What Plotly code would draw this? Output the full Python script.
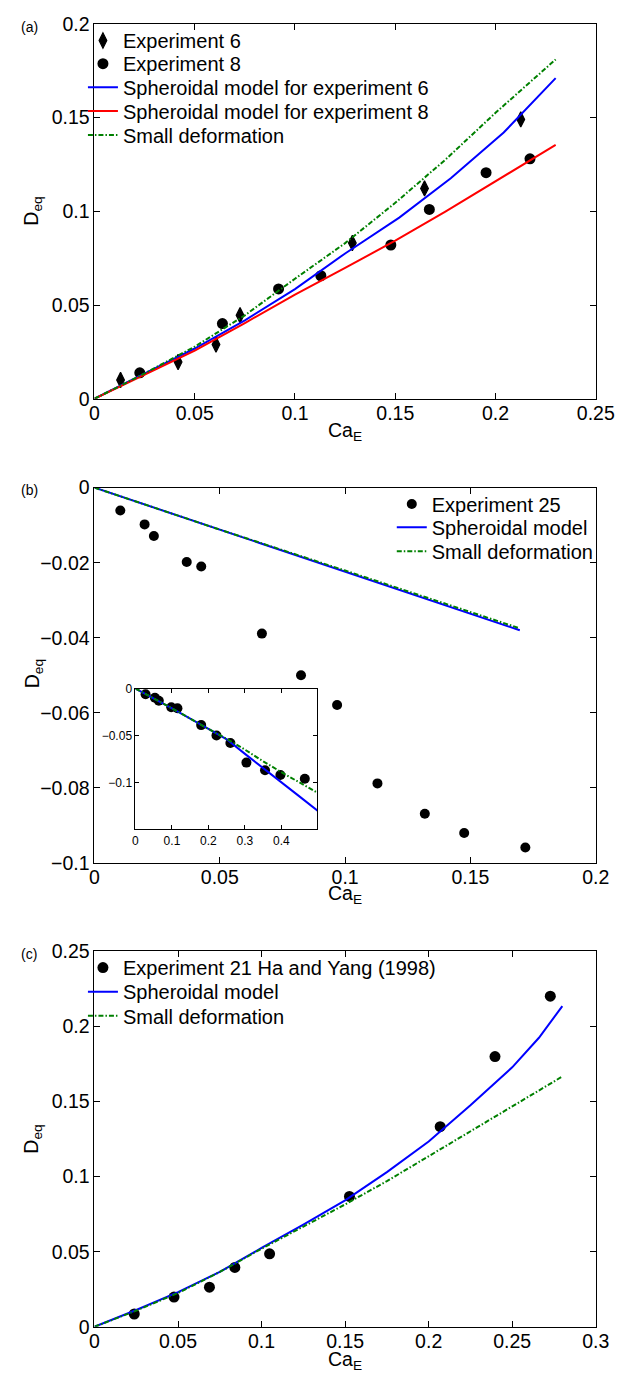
import plotly.graph_objects as go

W, H = 634, 1386

# ---------------- panel (a) ----------------
exp6_ca = [0.013, 0.0417, 0.0606, 0.0726, 0.1286, 0.1646, 0.2126]
exp6_d = [0.010, 0.0196, 0.0289, 0.0445, 0.0831, 0.1122, 0.149]
exp8_ca = [0.0226, 0.0638, 0.0918, 0.1129, 0.1478, 0.167, 0.1953, 0.2172]
exp8_d = [0.0138, 0.0401, 0.0586, 0.0656, 0.082, 0.101, 0.1206, 0.128]

sph6_ca = [0, 0.025, 0.05, 0.075, 0.1, 0.125, 0.152, 0.1777, 0.2041, 0.23]
sph6_d = [0, 0.0132, 0.0268, 0.0418, 0.0585, 0.0775, 0.0966, 0.1176, 0.142, 0.171]
model_a_ca = [0, 0.025, 0.05, 0.075, 0.1, 0.125, 0.15, 0.175, 0.2, 0.23]
sph8_d = [0, 0.0127, 0.0257, 0.0404, 0.0555, 0.0698, 0.0843, 0.0998, 0.1158, 0.1354]
small_a_d = [0, 0.0135, 0.0278, 0.0445, 0.064, 0.0830, 0.1045, 0.1275, 0.1525, 0.181]

# ---------------- panel (b) ----------------
exp25_ca = [0.0103, 0.0200, 0.0237, 0.0368, 0.0426, 0.0668, 0.0824, 0.0968,
            0.1129, 0.1318, 0.1475, 0.1719]
exp25_d = [-0.0061, -0.0098, -0.0129, -0.0198, -0.0210, -0.0389, -0.0500,
           -0.0579, -0.0788, -0.0869, -0.0920, -0.0959]
model_b_ca = [0, 0.05, 0.1, 0.15, 0.1697]
sph_b_d = [0, -0.0112, -0.0222, -0.0334, -0.0380]
small_b_d = [0, -0.0112, -0.0221, -0.0331, -0.0375]

# inset of panel (b)
inset_ca = [0.0277, 0.0533, 0.064, 0.098, 0.115, 0.180, 0.222, 0.260, 0.304,
            0.355, 0.397, 0.464]
inset_model_ca = [0, 0.1, 0.2, 0.25, 0.3, 0.35, 0.4, 0.45, 0.499]
inset_sph_d = [0, -0.021, -0.043, -0.054, -0.0695, -0.085, -0.0995, -0.115, -0.130]
inset_small_d = [0, -0.021, -0.043, -0.0535, -0.065, -0.0775, -0.089, -0.100, -0.111]

# ---------------- panel (c) ----------------
exp21_ca = [0.0238, 0.0476, 0.0688, 0.084, 0.1048, 0.1526, 0.2069, 0.2397, 0.2728]
exp21_d = [0.0085, 0.0198, 0.0264, 0.0395, 0.0486, 0.0868, 0.1333, 0.180, 0.2202]
sph_c_ca = [0, 0.025, 0.05, 0.075, 0.1, 0.125, 0.15, 0.175, 0.2, 0.225, 0.25, 0.266, 0.28]
sph_c_d = [0, 0.0112, 0.0231, 0.0365, 0.0525, 0.068, 0.0842, 0.103, 0.1234, 0.1475,
           0.1728, 0.1925, 0.2136]
small_c_ca = [0, 0.025, 0.05, 0.075, 0.1, 0.125, 0.15, 0.175, 0.2, 0.225, 0.25, 0.28]
small_c_d = [0, 0.0108, 0.0225, 0.0365, 0.052, 0.0665, 0.0815, 0.097, 0.1135, 0.13,
             0.1465, 0.1667]

BLUE = "#0000ff"
RED = "#ff0000"
GREEN = "#008000"
DASHDOT = "5px,2px,1.5px,2px"
FONT = "Liberation Sans, Arial, Helvetica, sans-serif"


def fx(p):
    return p / W


def fy(p):
    return 1 - p / H


fig = go.Figure()

# one legend box per entry so that each row sits exactly where it belongs
legend_boxes = {}


def entry_legend(text_x, row_y):
    key = "legend" if not legend_boxes else "legend%d" % (len(legend_boxes) + 1)
    legend_boxes[key] = dict(x=fx(text_x - 42), y=fy(row_y))
    return key


DIAMOND = dict(symbol="diamond-tall", size=11, color="black",
               line=dict(color="black", width=1.2))

# (a)
fig.add_trace(go.Scatter(x=exp6_ca, y=exp6_d, mode="markers", name="Experiment 6",
                         marker=DIAMOND, xaxis="x", yaxis="y",
                         legend=entry_legend(123, 30)))
fig.add_trace(go.Scatter(x=exp8_ca, y=exp8_d, mode="markers", name="Experiment 8",
                         marker=dict(symbol="circle", size=11, color="black"),
                         xaxis="x", yaxis="y", legend=entry_legend(123, 53.5)))
fig.add_trace(go.Scatter(x=sph6_ca, y=sph6_d, mode="lines",
                         name="Spheroidal model for experiment 6",
                         line=dict(color=BLUE, width=2), xaxis="x", yaxis="y",
                         legend=entry_legend(123, 77.5)))
fig.add_trace(go.Scatter(x=model_a_ca, y=sph8_d, mode="lines",
                         name="Spheroidal model for experiment 8",
                         line=dict(color=RED, width=2), xaxis="x", yaxis="y",
                         legend=entry_legend(123, 101.5)))
fig.add_trace(go.Scatter(x=model_a_ca, y=small_a_d, mode="lines",
                         name="Small deformation",
                         line=dict(color=GREEN, width=2, dash=DASHDOT),
                         xaxis="x", yaxis="y", legend=entry_legend(123, 126)))

# (b)
fig.add_trace(go.Scatter(x=exp25_ca, y=exp25_d, mode="markers", name="Experiment 25",
                         marker=dict(symbol="circle", size=10, color="black"),
                         xaxis="x2", yaxis="y2", legend=entry_legend(444, 501)))
fig.add_trace(go.Scatter(x=model_b_ca, y=sph_b_d, mode="lines", name="Spheroidal model",
                         line=dict(color=BLUE, width=2), xaxis="x2", yaxis="y2",
                         legend=entry_legend(444, 524.5)))
fig.add_trace(go.Scatter(x=model_b_ca, y=small_b_d, mode="lines", name="Small deformation",
                         line=dict(color=GREEN, width=2, dash=DASHDOT),
                         xaxis="x2", yaxis="y2", legend=entry_legend(444, 549)))

# inset
fig.add_trace(go.Scatter(x=inset_ca, y=exp25_d, mode="markers", showlegend=False,
                         marker=dict(symbol="circle", size=10, color="black"),
                         xaxis="x4", yaxis="y4"))
fig.add_trace(go.Scatter(x=inset_model_ca, y=inset_sph_d, mode="lines", showlegend=False,
                         line=dict(color=BLUE, width=2), xaxis="x4", yaxis="y4"))
fig.add_trace(go.Scatter(x=inset_model_ca, y=inset_small_d, mode="lines", showlegend=False,
                         line=dict(color=GREEN, width=2, dash=DASHDOT),
                         xaxis="x4", yaxis="y4"))

# (c)
fig.add_trace(go.Scatter(x=exp21_ca, y=exp21_d, mode="markers",
                         name="Experiment 21 Ha and Yang (1998)",
                         marker=dict(symbol="circle", size=11, color="black"),
                         xaxis="x3", yaxis="y3", legend=entry_legend(123, 972)))
fig.add_trace(go.Scatter(x=sph_c_ca, y=sph_c_d, mode="lines", name="Spheroidal model",
                         line=dict(color=BLUE, width=2), xaxis="x3", yaxis="y3",
                         legend=entry_legend(123, 996.5)))
fig.add_trace(go.Scatter(x=small_c_ca, y=small_c_d, mode="lines", name="Small deformation",
                         line=dict(color=GREEN, width=2, dash=DASHDOT),
                         xaxis="x3", yaxis="y3", legend=entry_legend(123, 1021)))

axis_style = dict(showline=True, linecolor="black", linewidth=1, mirror="allticks",
                  ticks="inside", ticklen=6, tickcolor="black", showgrid=False,
                  zeroline=False, tickfont=dict(size=19.5, color="black", family=FONT))
xaxis_style = dict(axis_style, ticklabelstandoff=-3)
inset_style = dict(axis_style, ticklen=4, tickfont=dict(size=12, color="black", family=FONT))

XD = [fx(93), fx(614)]
legend_style = dict(bgcolor="rgba(0,0,0,0)", font=dict(size=20, color="black", family=FONT),
                    xanchor="left", yanchor="middle", itemwidth=30, tracegroupgap=0)

layout = dict(
    width=W, height=H, margin=dict(l=0, r=0, t=0, b=0),
    paper_bgcolor="white", plot_bgcolor="white",
    font=dict(family=FONT, color="black"),
    xaxis=dict(xaxis_style, domain=XD, range=[0, 0.25], dtick=0.05, anchor="y"),
    yaxis=dict(axis_style, domain=[fy(394), fy(13)], range=[0, 0.2], dtick=0.05, anchor="x"),
    xaxis2=dict(xaxis_style, domain=XD, range=[0, 0.2], dtick=0.05, anchor="y2"),
    yaxis2=dict(axis_style, domain=[fy(865.7), fy(484.3)], range=[-0.1, 0], dtick=0.02,
                anchor="x2"),
    xaxis3=dict(xaxis_style, domain=XD, range=[0, 0.3], dtick=0.05, anchor="y3"),
    yaxis3=dict(axis_style, domain=[fy(1337), fy(955.6)], range=[0, 0.25], dtick=0.05,
                anchor="x3"),
    xaxis4=dict(inset_style, domain=[fx(135.6), fx(324.5)], range=[0, 0.498],
                tickvals=[0, 0.1, 0.2, 0.3, 0.4], anchor="y4"),
    yaxis4=dict(inset_style, domain=[fy(831.7), fy(688.5)], range=[-0.15, 0],
                tickvals=[0, -0.05, -0.1], anchor="x4"),
    showlegend=True,
)
for key, pos in legend_boxes.items():
    layout[key] = dict(legend_style, **pos)
fig.update_layout(**layout)

annotations = []
for label, ytop in (("(a)", 16), ("(b)", 487), ("(c)", 958)):
    annotations.append(dict(text=label, x=fx(25), y=fy(ytop), xref="paper", yref="paper",
                            showarrow=False, font=dict(size=14, family=FONT),
                            xanchor="center", yanchor="middle"))
for ymid in (203, 673, 1146):
    annotations.append(dict(text="D<sub>eq</sub>", x=fx(29), y=fy(ymid), xref="paper",
                            yref="paper", showarrow=False, textangle=-90,
                            font=dict(size=19.5, family=FONT),
                            xanchor="center", yanchor="middle"))
for ymid in (427, 898, 1371):
    annotations.append(dict(text="Ca<sub>E</sub>", x=fx(353.5), y=fy(ymid), xref="paper",
                            yref="paper", showarrow=False,
                            font=dict(size=19.5, family=FONT),
                            xanchor="center", yanchor="middle"))
fig.update_layout(annotations=annotations)

fig.write_html("out.html")
